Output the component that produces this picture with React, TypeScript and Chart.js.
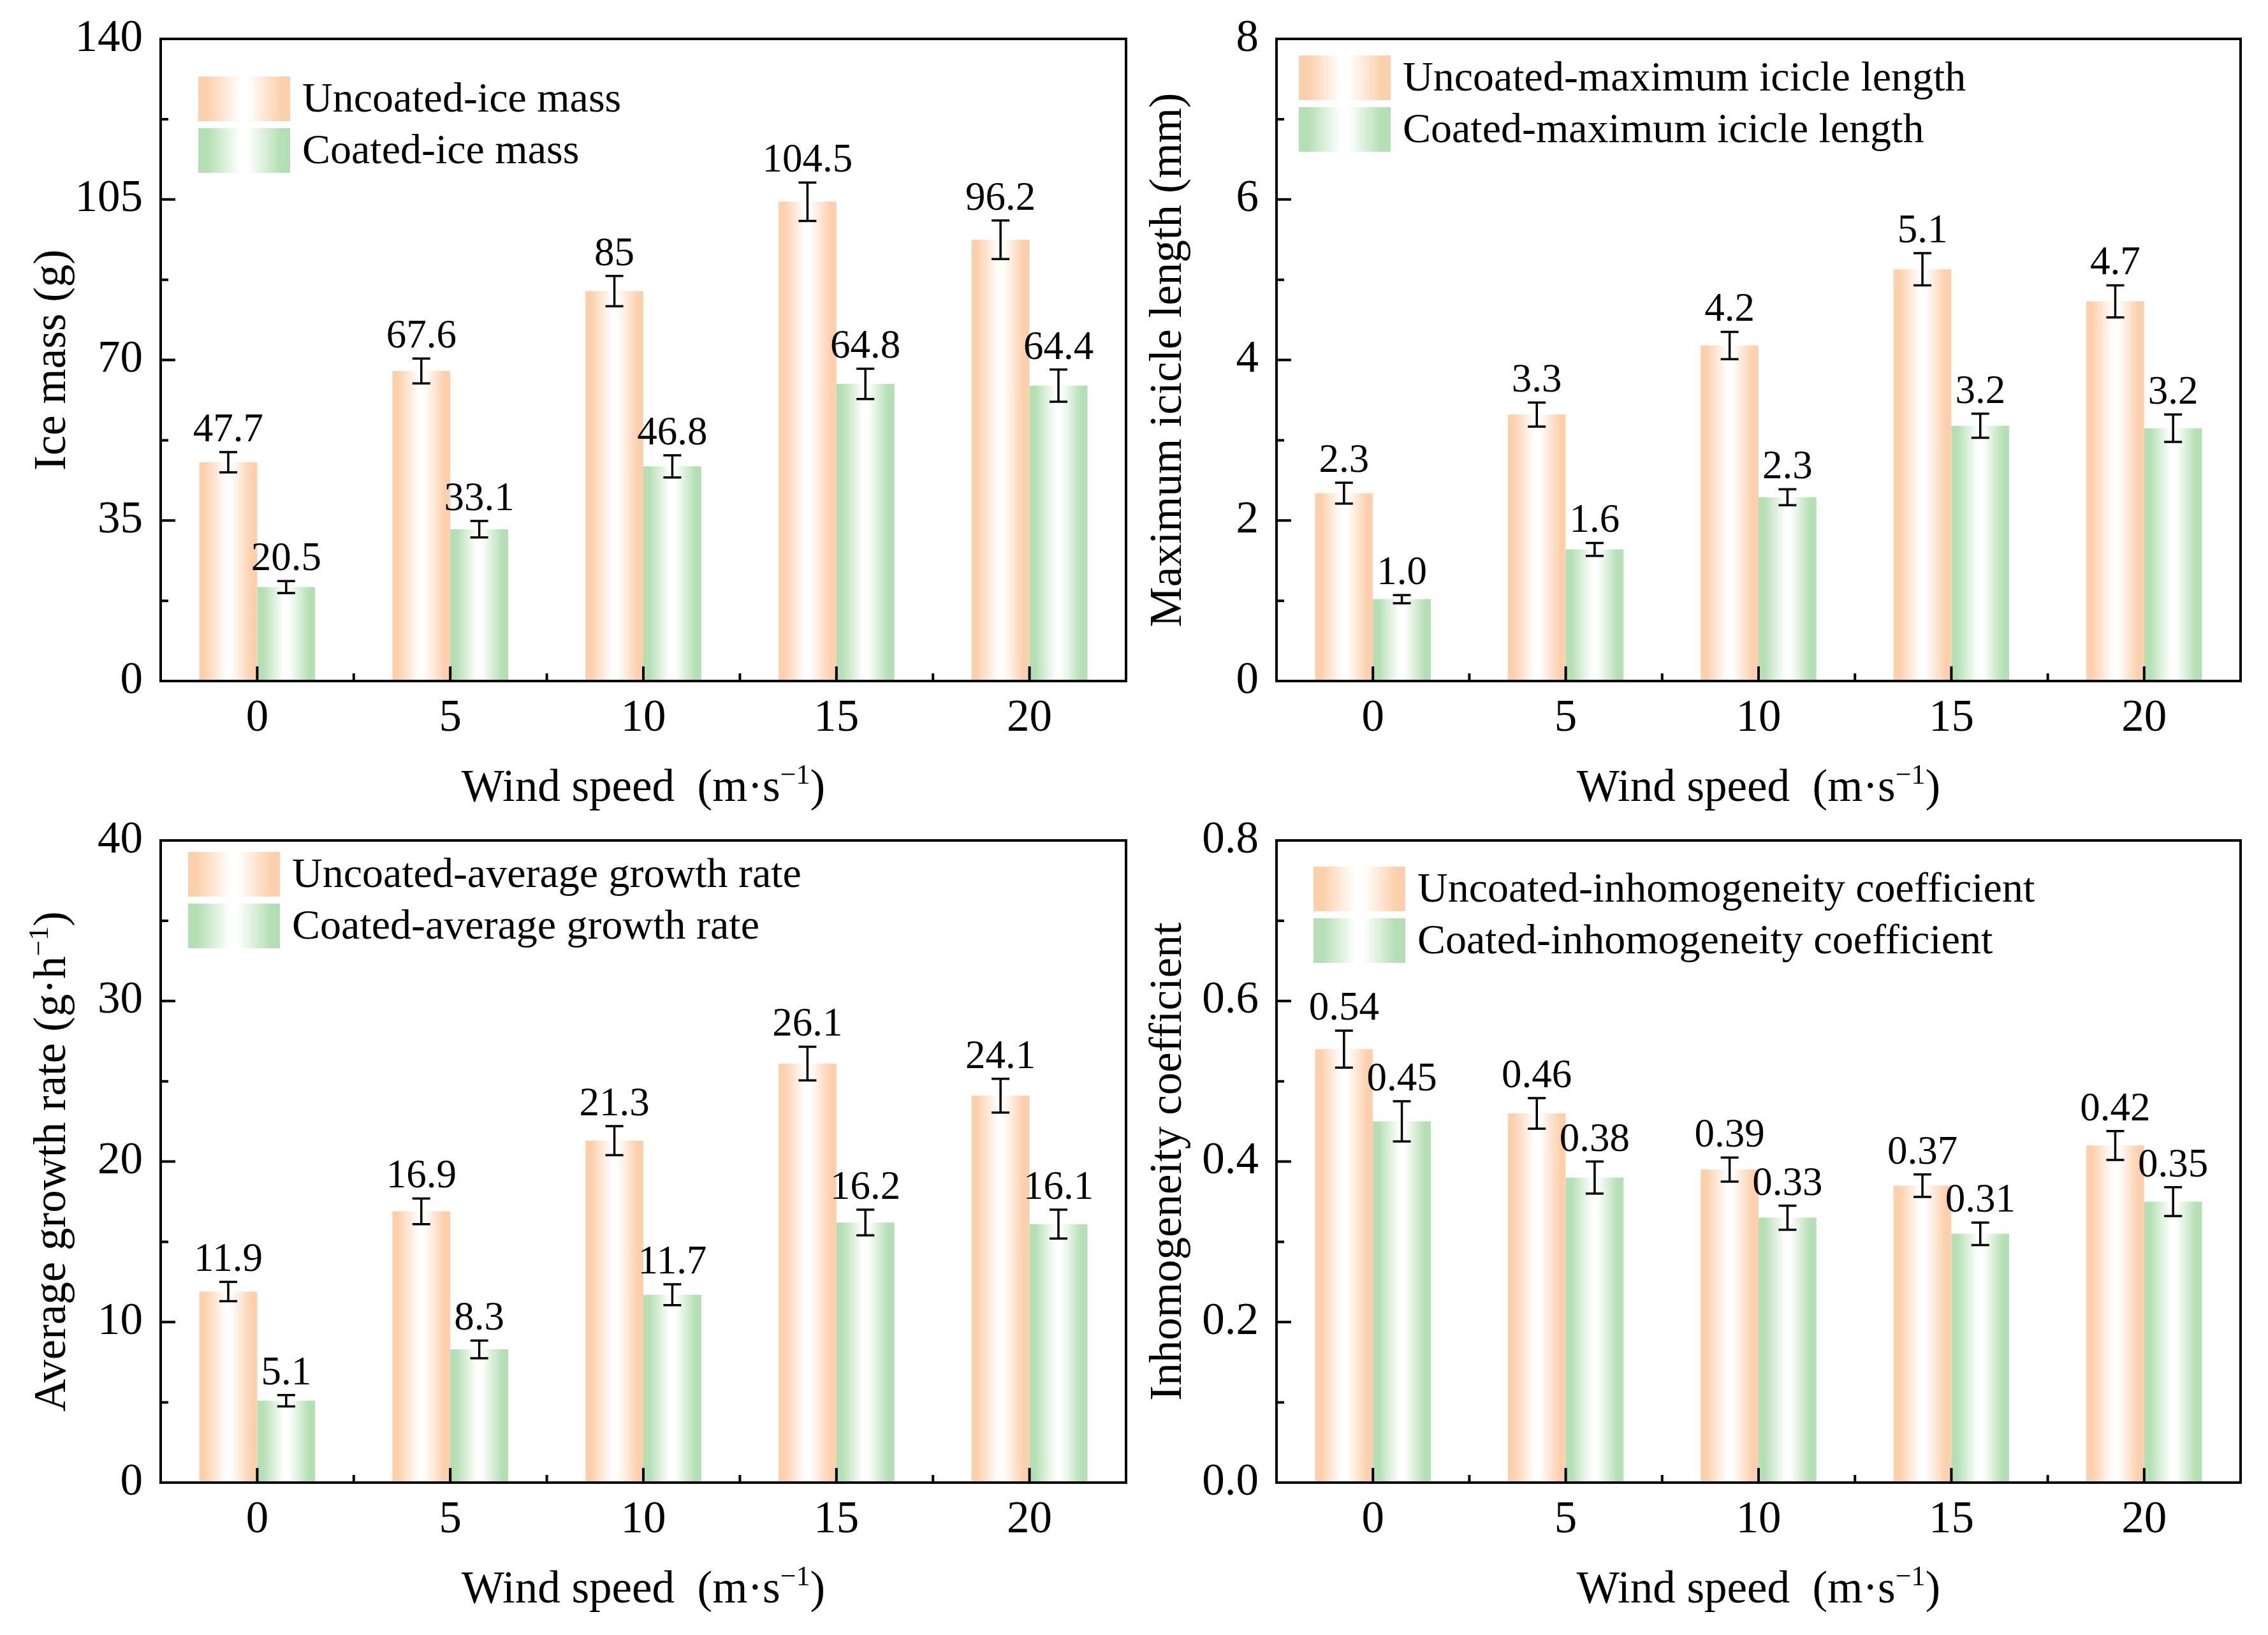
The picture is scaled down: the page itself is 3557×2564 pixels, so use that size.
import React, { useEffect, useRef } from 'react';
import { Chart, registerables } from 'chart.js';

Chart.register(...registerables);

// ---------------- data ----------------
const windSpeeds = ['0', '5', '10', '15', '20'];

const iceMassUncoated = [47.7, 67.6, 85, 104.5, 96.2];
const iceMassCoated = [20.5, 33.1, 46.8, 64.8, 64.4];
const iceMassUncoatedErr = [2.2, 2.7, 3.3, 4.2, 4.2];
const iceMassCoatedErr = [1.3, 1.8, 2.4, 3.3, 3.5];
const iceMassUncoatedLabels = ['47.7', '67.6', '85', '104.5', '96.2'];
const iceMassCoatedLabels = ['20.5', '33.1', '46.8', '64.8', '64.4'];

const lengthUncoated = [2.34, 3.32, 4.18, 5.13, 4.73];
const lengthCoated = [1.02, 1.64, 2.29, 3.18, 3.15];
const lengthUncoatedErr = [0.13, 0.15, 0.17, 0.2, 0.2];
const lengthCoatedErr = [0.05, 0.08, 0.1, 0.15, 0.17];
const lengthUncoatedLabels = ['2.3', '3.3', '4.2', '5.1', '4.7'];
const lengthCoatedLabels = ['1.0', '1.6', '2.3', '3.2', '3.2'];

const rateUncoated = [11.9, 16.9, 21.3, 26.1, 24.1];
const rateCoated = [5.1, 8.3, 11.7, 16.2, 16.1];
const rateUncoatedErr = [0.6, 0.8, 0.9, 1.05, 1.05];
const rateCoatedErr = [0.35, 0.55, 0.65, 0.8, 0.9];
const rateUncoatedLabels = ['11.9', '16.9', '21.3', '26.1', '24.1'];
const rateCoatedLabels = ['5.1', '8.3', '11.7', '16.2', '16.1'];

const inhomUncoated = [0.54, 0.46, 0.39, 0.37, 0.42];
const inhomCoated = [0.45, 0.38, 0.33, 0.31, 0.35];
const inhomUncoatedErr = [0.023, 0.019, 0.015, 0.014, 0.018];
const inhomCoatedErr = [0.025, 0.02, 0.015, 0.014, 0.018];
const inhomUncoatedLabels = ['0.54', '0.46', '0.39', '0.37', '0.42'];
const inhomCoatedLabels = ['0.45', '0.38', '0.33', '0.31', '0.35'];

const iceMassTicks = [0, 35, 70, 105, 140];
const lengthTicks = [0, 2, 4, 6, 8];
const rateTicks = [0, 10, 20, 30, 40];
const inhomTicks = [0, 0.2, 0.4, 0.6, 0.8];

// ---------------- style ----------------
const FONT = '"Liberation Serif", "Times New Roman", serif';
const ORANGE = '#FCD0AC';
const GREEN = '#B4DFB4';
const TICK_SIZE = 71;
const TITLE_SIZE = 71;
const LEGEND_SIZE = 66;
const LABEL_SIZE = 63;
const Y_AXIS_W = 252;
const PAD_TOP = 61;
const PAD_RIGHT = 12;
const X_AXIS_H = 214;

type Part = { t: string; sup?: boolean };

interface Series {
  name: string;
  color: string;
  values: number[];
  errs: number[];
  labels: string[];
}

interface PanelDef {
  plot: [number, number, number, number];
  ticks: number[];
  decimals: number;
  series: Series[];
  legendDx: number;
  legendDy: number;
  yTitle: Part[];
}

const xTitle: Part[] = [{ t: 'Wind speed  (m·s' }, { t: '−1', sup: true }, { t: ')' }];

const panels: PanelDef[] = [
  {
    plot: [252, 61, 1766, 1068],
    ticks: iceMassTicks,
    decimals: 0,
    series: [
      { name: 'Uncoated-ice mass', color: ORANGE, values: iceMassUncoated, errs: iceMassUncoatedErr, labels: iceMassUncoatedLabels },
      { name: 'Coated-ice mass', color: GREEN, values: iceMassCoated, errs: iceMassCoatedErr, labels: iceMassCoatedLabels },
    ],
    legendDx: 59,
    legendDy: 59,
    yTitle: [{ t: 'Ice mass (g)' }],
  },
  {
    plot: [2002, 61, 3514, 1068],
    ticks: lengthTicks,
    decimals: 0,
    series: [
      { name: 'Uncoated-maximum icicle length', color: ORANGE, values: lengthUncoated, errs: lengthUncoatedErr, labels: lengthUncoatedLabels },
      { name: 'Coated-maximum icicle length', color: GREEN, values: lengthCoated, errs: lengthCoatedErr, labels: lengthCoatedLabels },
    ],
    legendDx: 35,
    legendDy: 26,
    yTitle: [{ t: 'Maximum icicle length (mm)' }],
  },
  {
    plot: [252, 1318, 1766, 2325],
    ticks: rateTicks,
    decimals: 0,
    series: [
      { name: 'Uncoated-average growth rate', color: ORANGE, values: rateUncoated, errs: rateUncoatedErr, labels: rateUncoatedLabels },
      { name: 'Coated-average growth rate', color: GREEN, values: rateCoated, errs: rateCoatedErr, labels: rateCoatedLabels },
    ],
    legendDx: 43,
    legendDy: 18,
    yTitle: [{ t: 'Average growth rate (g·h' }, { t: '−1', sup: true }, { t: ')' }],
  },
  {
    plot: [2002, 1318, 3514, 2325],
    ticks: inhomTicks,
    decimals: 1,
    series: [
      { name: 'Uncoated-inhomogeneity coefficient', color: ORANGE, values: inhomUncoated, errs: inhomUncoatedErr, labels: inhomUncoatedLabels },
      { name: 'Coated-inhomogeneity coefficient', color: GREEN, values: inhomCoated, errs: inhomCoatedErr, labels: inhomCoatedLabels },
    ],
    legendDx: 58,
    legendDy: 41,
    yTitle: [{ t: 'Inhomogeneity coefficient' }],
  },
];

// ---------------- helpers ----------------
function makeGradient(ctx: CanvasRenderingContext2D, left: number, width: number, color: string) {
  const g = ctx.createLinearGradient(left, 0, left + width, 0);
  g.addColorStop(0, color);
  g.addColorStop(0.1, color);
  g.addColorStop(0.46, '#ffffff');
  g.addColorStop(0.54, '#ffffff');
  g.addColorStop(0.9, color);
  g.addColorStop(1, color);
  return g;
}

function fontOf(size: number) {
  return `${size}px ${FONT}`;
}

function richWidth(ctx: CanvasRenderingContext2D, parts: Part[], size: number) {
  let w = 0;
  for (const p of parts) {
    ctx.font = fontOf(p.sup ? size * 0.62 : size);
    w += ctx.measureText(p.t).width;
  }
  return w;
}

function drawRich(ctx: CanvasRenderingContext2D, parts: Part[], size: number, cx: number, baseline: number) {
  const w = richWidth(ctx, parts, size);
  let x = cx - w / 2;
  ctx.textAlign = 'left';
  ctx.textBaseline = 'alphabetic';
  for (const p of parts) {
    const s = p.sup ? size * 0.62 : size;
    ctx.font = fontOf(s);
    ctx.fillText(p.t, x, p.sup ? baseline - size * 0.38 : baseline);
    x += ctx.measureText(p.t).width;
  }
}

function decorPlugin(panel: PanelDef) {
  return {
    id: 'decor',
    afterDatasetsDraw(chart: any) {
      const ctx: CanvasRenderingContext2D = chart.ctx;
      const { left, top, right, bottom } = chart.chartArea;
      const xs = chart.scales.x;
      const ys = chart.scales.y;
      ctx.save();
      ctx.strokeStyle = '#000';
      ctx.fillStyle = '#000';

      // error bars + value labels
      panel.series.forEach((s, di) => {
        const meta = chart.getDatasetMeta(di);
        s.values.forEach((v, i) => {
          const el = meta.data[i];
          if (!el) return;
          const x = el.x;
          const yT = ys.getPixelForValue(v + s.errs[i]);
          const yB = ys.getPixelForValue(v - s.errs[i]);
          ctx.lineWidth = 3.5;
          ctx.beginPath();
          ctx.moveTo(x, yT);
          ctx.lineTo(x, yB);
          ctx.moveTo(x - 14, yT);
          ctx.lineTo(x + 14, yT);
          ctx.moveTo(x - 14, yB);
          ctx.lineTo(x + 14, yB);
          ctx.stroke();
          ctx.font = fontOf(LABEL_SIZE);
          ctx.textAlign = 'center';
          ctx.textBaseline = 'alphabetic';
          ctx.fillText(s.labels[i], x, yT - 17);
        });
      });

      // frame
      ctx.lineWidth = 4;
      ctx.strokeRect(left, top, right - left, bottom - top);

      // inward ticks: y major + minor, x major at categories + minor between
      ctx.beginPath();
      const tk = panel.ticks;
      for (let k = 0; k < tk.length; k++) {
        const y = ys.getPixelForValue(tk[k]);
        ctx.moveTo(left, y);
        ctx.lineTo(left + 23, y);
        if (k < tk.length - 1) {
          const ym = ys.getPixelForValue((tk[k] + tk[k + 1]) / 2);
          ctx.moveTo(left, ym);
          ctx.lineTo(left + 12, ym);
        }
      }
      for (let i = 0; i < windSpeeds.length; i++) {
        const x = xs.getPixelForValue(i);
        ctx.moveTo(x, bottom);
        ctx.lineTo(x, bottom - 23);
        if (i < windSpeeds.length - 1) {
          const xm = (x + xs.getPixelForValue(i + 1)) / 2;
          ctx.moveTo(xm, bottom);
          ctx.lineTo(xm, bottom - 12);
        }
      }
      ctx.stroke();

      // legend
      const bw = 144;
      const bh = 70;
      const gap = 81;
      panel.series.forEach((s, di) => {
        const bx = left + panel.legendDx;
        const by = top + panel.legendDy + di * gap;
        ctx.fillStyle = makeGradient(ctx, bx, bw, s.color);
        ctx.fillRect(bx, by, bw, bh);
        ctx.fillStyle = '#000';
        ctx.font = fontOf(LEGEND_SIZE);
        ctx.textAlign = 'left';
        ctx.textBaseline = 'middle';
        ctx.fillText(s.name, bx + bw + 19, by + bh / 2 + 3);
      });

      // axis titles
      ctx.fillStyle = '#000';
      drawRich(ctx, xTitle, TITLE_SIZE, (left + right) / 2, bottom + 188);
      ctx.save();
      ctx.translate(left - 150, (top + bottom) / 2);
      ctx.rotate(-Math.PI / 2);
      drawRich(ctx, panel.yTitle, TITLE_SIZE, 0, 0);
      ctx.restore();

      ctx.restore();
    },
  };
}

function PanelChart({ panel }: { panel: PanelDef }) {
  const ref = useRef<HTMLCanvasElement | null>(null);
  const [pl, pt, pr, pb] = panel.plot;
  const W = Y_AXIS_W + (pr - pl) + PAD_RIGHT;
  const H = PAD_TOP + (pb - pt) + X_AXIS_H;

  useEffect(() => {
    if (!ref.current) return;
    const yMax = panel.ticks[panel.ticks.length - 1];
    const yStep = panel.ticks[1] - panel.ticks[0];
    const chart = new Chart(ref.current, {
      type: 'bar',
      data: {
        labels: windSpeeds,
        datasets: panel.series.map((s, di) => ({
          label: s.name,
          data: s.values,
          borderWidth: 0,
          categoryPercentage: 0.6,
          barPercentage: 1,
          backgroundColor: (c: any) => {
            const ch = c.chart;
            const xs = ch.scales && ch.scales.x;
            if (!ch.chartArea || !xs || c.dataIndex === undefined) return s.color;
            const cw = xs.getPixelForValue(1) - xs.getPixelForValue(0);
            const bw = (cw * 0.6) / 2;
            const center = xs.getPixelForValue(c.dataIndex);
            const lft = di === 0 ? center - bw : center;
            return makeGradient(ch.ctx, lft, bw, s.color);
          },
        })),
      },
      options: {
        animation: false,
        responsive: false,
        devicePixelRatio: 1,
        layout: { autoPadding: false, padding: { top: PAD_TOP, right: PAD_RIGHT, left: 0, bottom: 0 } },
        plugins: { legend: { display: false }, tooltip: { enabled: false } },
        scales: {
          x: {
            type: 'category',
            grid: { display: false, drawTicks: false },
            border: { display: false },
            ticks: {
              color: '#000',
              font: { family: FONT, size: TICK_SIZE },
              padding: 17,
              maxRotation: 0,
              autoSkip: false,
            },
            afterFit: (s: any) => {
              s.height = X_AXIS_H;
              s.paddingLeft = 0;
              s.paddingRight = 0;
            },
          },
          y: {
            min: 0,
            max: yMax,
            grid: { display: false, drawTicks: false },
            border: { display: false },
            ticks: {
              stepSize: yStep,
              color: '#000',
              font: { family: FONT, size: TICK_SIZE },
              padding: 28,
              callback: (v: any) => Number(v).toFixed(panel.decimals),
            },
            afterFit: (s: any) => {
              s.width = Y_AXIS_W;
              s.paddingTop = 0;
              s.paddingBottom = 0;
            },
          },
        },
      } as any,
      plugins: [decorPlugin(panel)],
    });
    return () => {
      chart.destroy();
    };
  }, [panel]);

  return (
    <canvas
      ref={ref}
      width={W}
      height={H}
      style={{ position: 'absolute', left: pl - Y_AXIS_W, top: pt - PAD_TOP, width: W, height: H }}
    />
  );
}

export default function App() {
  useEffect(() => {
    document.body.style.margin = '0';
  }, []);
  return (
    <div style={{ position: 'absolute', left: 0, top: 0, width: 3557, height: 2564, background: '#fff', overflow: 'hidden' }}>
      {panels.map((p, i) => (
        <PanelChart key={i} panel={p} />
      ))}
    </div>
  );
}
